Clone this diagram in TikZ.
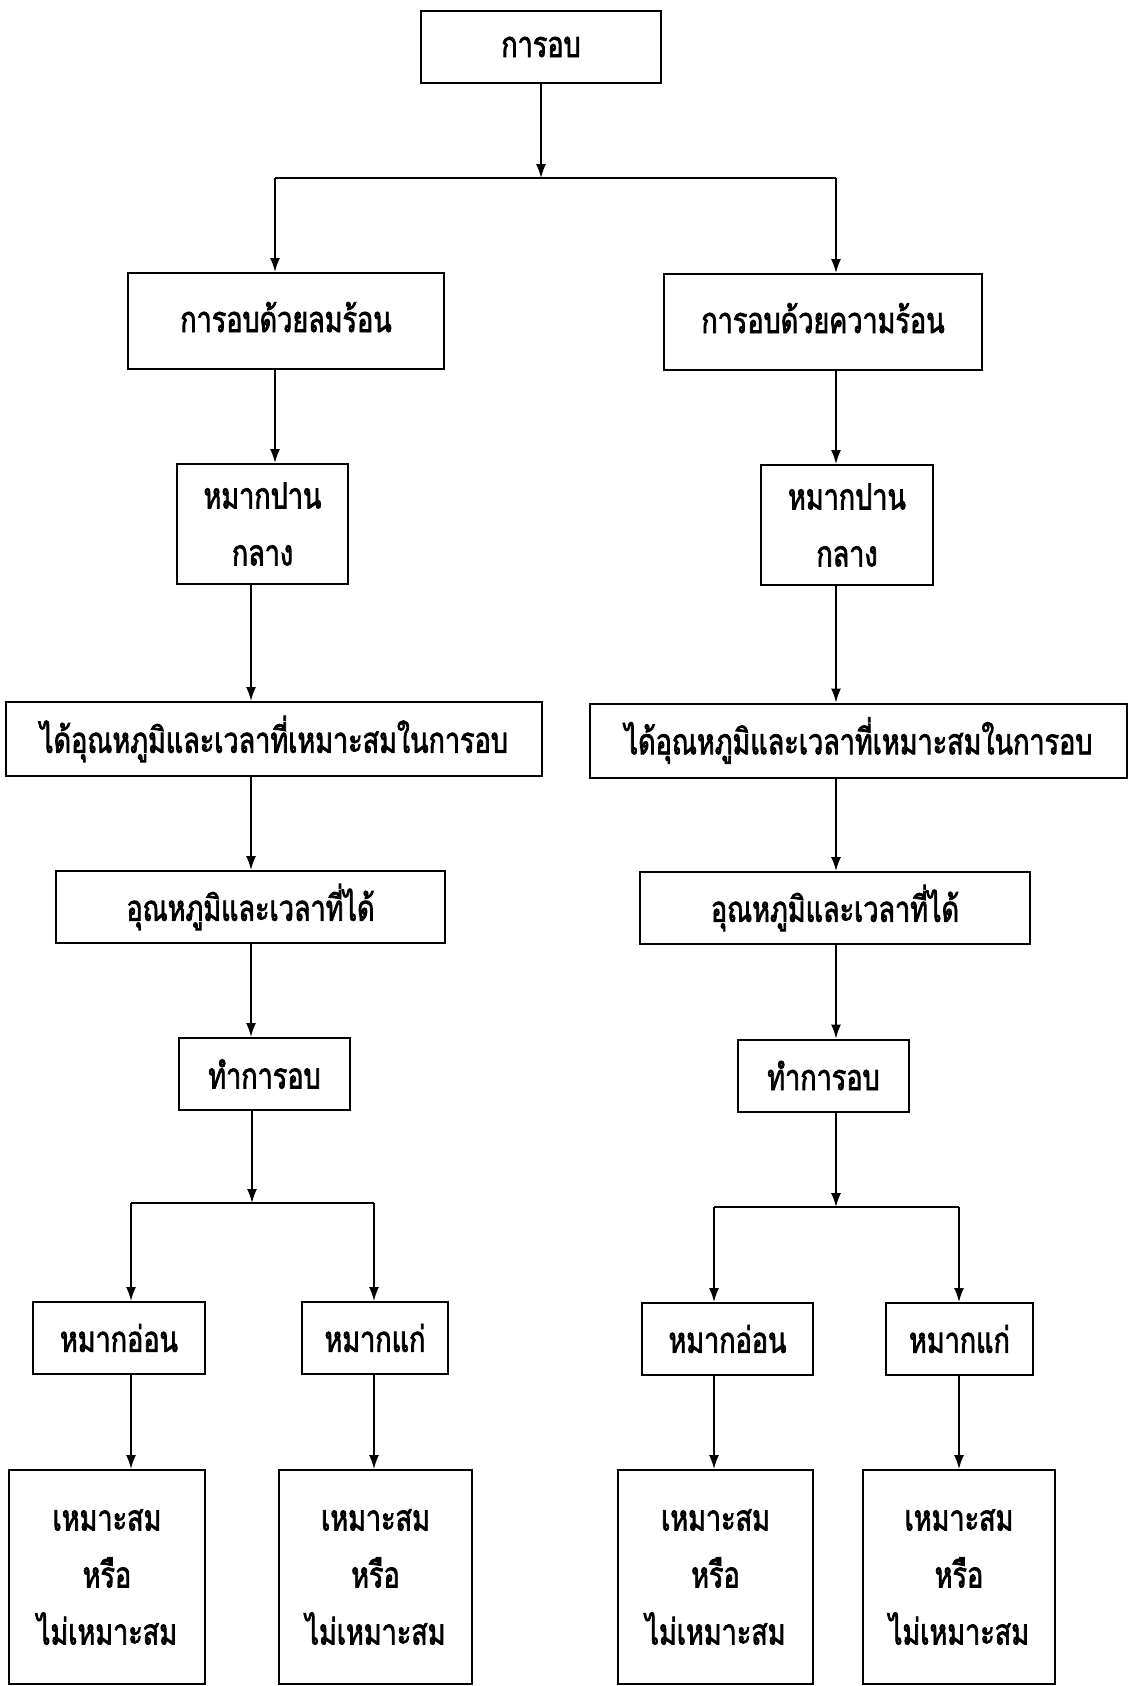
\documentclass[tikz,border=0pt]{standalone}
\usepackage{fontspec}
\newfontfamily\thaifont[Script=Thai,FakeStretch=0.75,FakeBold=2]{Loma}
\usetikzlibrary{arrows.meta, positioning}

\begin{document}
\begin{tikzpicture}[
        x=0.5pt, y=-0.5pt,
        block/.style={rectangle, draw, line width=1pt, inner sep=0pt, align=center, font=\thaifont\fontsize{18}{28.5}\selectfont},
        line/.style={draw, line width=0.8pt, -{Latex[length=7pt,width=5pt]}}
    ]
        \useasboundingbox (0,0) rectangle (1129,1686);

        % top and the two ways of drying
        \node [block, minimum width=120pt, minimum height=36pt] (top) at (541,47) {\raisebox{-3pt}{การอบ}};
        \node [block, minimum width=158pt, minimum height=48pt] (hotair) at (286,321) {\raisebox{4pt}{การอบด้วยลมร้อน}};
        \node [block, minimum width=159pt, minimum height=48pt] (heat) at (823,322) {\raisebox{4pt}{การอบด้วยความร้อน}};

        % left column
        \node [block, minimum width=85.5pt, minimum height=60pt] (ml) at (262.5,524) {หมากปาน\\กลาง};
        \node [block, minimum width=268pt, minimum height=37pt] (optl) at (274,739) {ได้อุณหภูมิและเวลาที่เหมาะสมในการอบ};
        \node [block, minimum width=194.5pt, minimum height=36pt] (gotl) at (250.5,907) {อุณหภูมิและเวลาที่ได้};
        \node [block, minimum width=85.5pt, minimum height=36pt] (bakel) at (264.5,1074) {ทำการอบ};
        \node [block, minimum width=86pt, minimum height=36pt] (youngl) at (119,1338) {หมากอ่อน};
        \node [block, minimum width=73pt, minimum height=36pt] (oldl) at (375,1338) {หมากแก่};
        \node [block, minimum width=98pt, minimum height=107pt] (resl1) at (107,1577) {เหมาะสม\\หรือ\\ไม่เหมาะสม};
        \node [block, minimum width=96.5pt, minimum height=107pt] (resl2) at (375.5,1577) {เหมาะสม\\หรือ\\ไม่เหมาะสม};

        % right column
        \node [block, minimum width=86pt, minimum height=60pt] (mr) at (847,525) {หมากปาน\\กลาง};
        \node [block, minimum width=268.5pt, minimum height=37pt] (optr) at (858.5,740.5) {ได้อุณหภูมิและเวลาที่เหมาะสมในการอบ};
        \node [block, minimum width=195pt, minimum height=36pt] (gotr) at (835,908) {อุณหภูมิและเวลาที่ได้};
        \node [block, minimum width=85.5pt, minimum height=36pt] (baker) at (823.5,1075.5) {ทำการอบ};
        \node [block, minimum width=85.5pt, minimum height=36pt] (youngr) at (727.5,1339) {หมากอ่อน};
        \node [block, minimum width=73.5pt, minimum height=36pt] (oldr) at (959.5,1339) {หมากแก่};
        \node [block, minimum width=97.5pt, minimum height=107pt] (resr1) at (715.5,1577) {เหมาะสม\\หรือ\\ไม่เหมาะสม};
        \node [block, minimum width=96pt, minimum height=107pt] (resr2) at (959,1577) {เหมาะสม\\หรือ\\ไม่เหมาะสม};

        % branch points
        \coordinate (j0) at (541,178);
        \coordinate (jl) at (275,178);
        \coordinate (jr) at (836,178);
        \coordinate (cl) at (251,0);
        \coordinate (kl) at (252,1203);
        \coordinate (kl1) at (131,1203);
        \coordinate (kl2) at (374,1203);
        \coordinate (kr) at (836,1207);
        \coordinate (kr1) at (714,1207);
        \coordinate (kr2) at (959,1207);

        \path [line] (top.south) -- (j0);
        \draw [line width=0.8pt] (jl) -- (jr);
        \path [line] (jl) -- (jl |- hotair.north);
        \path [line] (jr) -- (jr |- heat.north);

        \path [line] (hotair.south -| jl) -- (ml.north -| jl);
        \path [line] (ml.south -| cl) -- (optl.north -| cl);
        \path [line] (optl.south -| cl) -- (gotl.north -| cl);
        \path [line] (gotl.south -| cl) -- (bakel.north -| cl);
        \path [line] (bakel.south -| kl) -- (kl);
        \draw [line width=0.8pt] (kl1) -- (kl2);
        \path [line] (kl1) -- (kl1 |- youngl.north);
        \path [line] (kl2) -- (kl2 |- oldl.north);
        \path [line] (youngl.south -| kl1) -- (resl1.north -| kl1);
        \path [line] (oldl.south -| kl2) -- (resl2.north -| kl2);

        \path [line] (heat.south -| jr) -- (mr.north -| jr);
        \path [line] (mr.south -| jr) -- (optr.north -| jr);
        \path [line] (optr.south -| jr) -- (gotr.north -| jr);
        \path [line] (gotr.south -| jr) -- (baker.north -| jr);
        \path [line] (baker.south -| kr) -- (kr);
        \draw [line width=0.8pt] (kr1) -- (kr2);
        \path [line] (kr1) -- (kr1 |- youngr.north);
        \path [line] (kr2) -- (kr2 |- oldr.north);
        \path [line] (youngr.south -| kr1) -- (resr1.north -| kr1);
        \path [line] (oldr.south -| kr2) -- (resr2.north -| kr2);
    \end{tikzpicture}
\end{document}
